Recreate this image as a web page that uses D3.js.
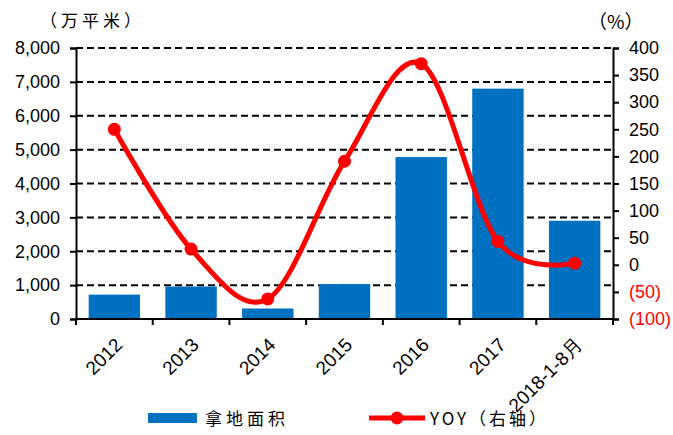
<!DOCTYPE html>
<html>
<head>
<meta charset="utf-8">
<script src="https://cdn.jsdelivr.net/npm/d3@7/dist/d3.min.js"></script>
<style>
  body { margin: 0; background: #fff; }
  .num { font-family: "Liberation Sans", Arial, sans-serif; font-size: 18px; }
  .cjk { font-family: "Noto Sans CJK SC", sans-serif; }
</style>
</head>
<body>
<div class="landChart"></div>
<script>
// data
let years = ['2012', '2013', '2014', '2015', '2016', '2017', '2018-1-8月'];
let area = [720, 960, 310, 1030, 4780, 6800, 2900];
let yoy = [250, 29, -63, 191, 371, 43, 3];
let leftTicks = [0, 1000, 2000, 3000, 4000, 5000, 6000, 7000, 8000];
let rightTicks = [-100, -50, 0, 50, 100, 150, 200, 250, 300, 350, 400];

function drawLandChart(d3) {
  let width = 673;
  let height = 435;
  let margin = { top: 48, bottom: 116, left: 76, right: 60 };

  let svg = d3.select('.landChart')
    .append('svg')
    .attr('width', width)
    .attr('height', height);

  let x = d3.scaleBand()
    .domain(years)
    .range([margin.left, width - margin.right])
    .paddingInner(0.33)
    .paddingOuter(0.165);

  // full category slots, used for the line and the separator ticks
  let xStep = d3.scaleBand().domain(years).range([margin.left, width - margin.right]);

  let yLeft = d3.scaleLinear()
    .domain([0, 8000])
    .range([height - margin.bottom, margin.top]);

  let yRight = d3.scaleLinear()
    .domain([-100, 400])
    .range([height - margin.bottom, margin.top]);

  // dashed grid
  svg.append('g')
    .selectAll('line')
    .data(leftTicks.slice(1))
    .enter().append('line')
    .attr('x1', margin.left)
    .attr('x2', width - margin.right)
    .attr('y1', d => yLeft(d))
    .attr('y2', d => yLeft(d))
    .attr('stroke', '#000')
    .attr('stroke-width', 2)
    .attr('stroke-dasharray', '7,4');

  // bars
  svg.append('g')
    .selectAll('rect')
    .data(area)
    .enter().append('rect')
    .attr('x', (d, i) => x(years[i]))
    .attr('width', x.bandwidth())
    .attr('y', d => yLeft(d))
    .attr('height', d => yLeft(0) - yLeft(d))
    .attr('fill', '#0070C0');

  // left axis
  let gl = svg.append('g')
    .attr('class', 'num')
    .attr('transform', 'translate(' + margin.left + ',0)')
    .call(d3.axisLeft(yLeft).tickValues(leftTicks).tickFormat(d3.format(',')).tickSize(6).tickPadding(10));

  // right axis
  let gr = svg.append('g')
    .attr('class', 'num')
    .attr('transform', 'translate(' + (width - margin.right) + ',0)')
    .call(d3.axisRight(yRight).tickValues(rightTicks)
      .tickFormat(d => d < 0 ? '(' + (-d) + ')' : d)
      .tickSize(6).tickPadding(10));
  gr.selectAll('.tick text').attr('fill', d => d < 0 ? '#FF0000' : '#000');

  // bottom axis, ticks between categories
  let gb = svg.append('g')
    .attr('class', 'num')
    .attr('transform', 'translate(0,' + yLeft(0) + ')');
  gb.append('line')
    .attr('x1', margin.left).attr('x2', width - margin.right)
    .attr('stroke', '#000').attr('stroke-width', 2);
  gb.selectAll('.sep')
    .data(d3.range(years.length + 1))
    .enter().append('line')
    .attr('x1', i => margin.left + i * xStep.step())
    .attr('x2', i => margin.left + i * xStep.step())
    .attr('y1', 0).attr('y2', 6)
    .attr('stroke', '#000').attr('stroke-width', 2);
  gb.selectAll('.lbl')
    .data(years)
    .enter().append('text')
    .attr('text-anchor', 'end')
    .attr('transform', d => 'translate(' + (xStep(d) + xStep.bandwidth() / 2 + 9) + ',27) rotate(-45)')
    .attr('fill', '#000')
    .style('font-size', '19px')
    .text(d => d);

  [gl, gr].forEach(g => {
    g.select('.domain').attr('stroke', '#000').attr('stroke-width', 2);
    g.selectAll('.tick line').attr('stroke', '#000').attr('stroke-width', 2);
    g.selectAll('.tick text').style('font-size', '18px');
  });
  gl.selectAll('.tick text').attr('fill', '#000');

  // yoy line
  let line = d3.line()
    .x((d, i) => xStep(years[i]) + xStep.bandwidth() / 2)
    .y(d => yRight(d))
    .curve(d3.curveCardinal.tension(0));

  svg.append('path')
    .datum(yoy)
    .attr('d', line)
    .attr('fill', 'none')
    .attr('stroke', '#FF0000')
    .attr('stroke-width', 5);

  svg.append('g')
    .selectAll('circle')
    .data(yoy)
    .enter().append('circle')
    .attr('cx', (d, i) => xStep(years[i]) + xStep.bandwidth() / 2)
    .attr('cy', d => yRight(d))
    .attr('r', 6.5)
    .attr('fill', '#FF0000');

  // unit labels
  svg.append('text').attr('class', 'cjk')
    .attr('x', 40).attr('y', 27)
    .style('font-size', '17px').style('letter-spacing', '4px')
    .text('（万平米）');
  svg.append('text').attr('class', 'cjk')
    .attr('x', 588).attr('y', 29)
    .style('font-size', '19px')
    .text('（%）');

  // legend
  let lg = svg.append('g');
  lg.append('rect')
    .attr('x', 148).attr('y', 413).attr('width', 49).attr('height', 10)
    .attr('fill', '#0070C0');
  lg.append('text').attr('class', 'cjk')
    .attr('x', 205).attr('y', 425)
    .style('font-size', '17px').style('letter-spacing', '4px')
    .text('拿地面积');
  lg.append('line')
    .attr('x1', 369).attr('x2', 425).attr('y1', 418).attr('y2', 418)
    .attr('stroke', '#FF0000').attr('stroke-width', 5);
  lg.append('circle')
    .attr('cx', 397).attr('cy', 418).attr('r', 6.5).attr('fill', '#FF0000');
  lg.append('text').attr('class', 'cjk')
    .attr('x', 430).attr('y', 425)
    .style('font-size', '17px').style('letter-spacing', '3px')
    .text('YOY（右轴）');
}

drawLandChart(d3);
</script>
</body>
</html>
